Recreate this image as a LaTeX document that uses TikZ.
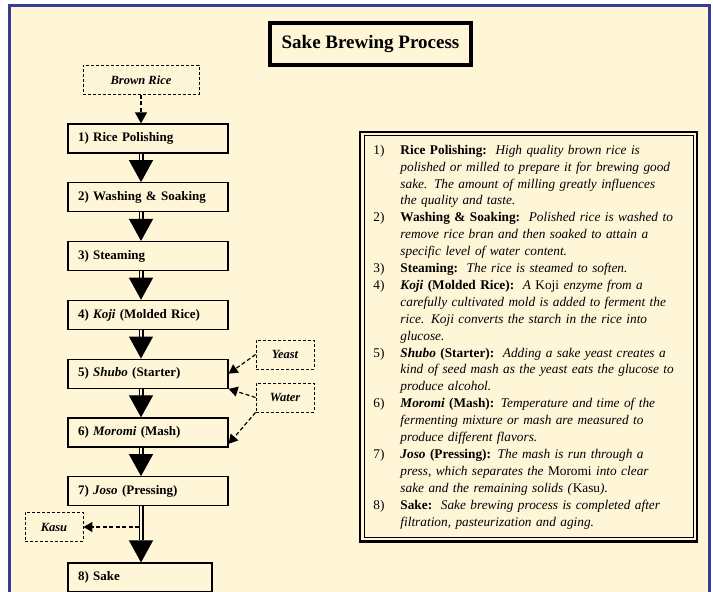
\documentclass[tikz,border=0pt]{standalone}
\usepackage{fontspec}
\setmainfont{Liberation Serif}
\usetikzlibrary{arrows.meta,positioning,calc}
\definecolor{paper}{RGB}{255,246,216}
\definecolor{frameblue}{RGB}{56,60,148}

\begin{document}
\begin{tikzpicture}[
  x=1pt, y=1pt,
  stepbox/.style={draw=black, line width=1.3pt, fill=paper, minimum height=29pt,
            text width=140pt, inner xsep=10pt, align=left,
            font=\fontsize{13}{15}\selectfont\bfseries},
  input/.style={draw=black, line width=0.9pt, dash pattern=on 3pt off 2pt,
            minimum height=29pt, inner sep=2pt, align=center,
            font=\fontsize{12.5}{15}\selectfont\bfseries\itshape},
  shaft/.style={draw=black, line width=1.2pt, double=paper, double distance=2.6pt},
  head/.style={draw=black, line width=1pt, -{Triangle[length=22pt,width=24pt]}},
  feed/.style={draw=black, line width=1.2pt, dash pattern=on 4pt off 2.5pt,
            -{Triangle[length=9pt,width=10pt]}}
]
\useasboundingbox (0,0) rectangle (713,592);

% page and frame
\fill[white] (0,0) rectangle (713,592);
\fill[paper] (9.5,0) rectangle (709.5,586);
\draw[frameblue, line width=3pt] (9.5,0) -- (9.5,586) -- (709.5,586) -- (709.5,0);

% title
\node[draw, line width=3.5pt, minimum width=201pt, minimum height=42pt,
      font=\fontsize{19}{22}\selectfont\bfseries] (title) at (370.5,548) {Sake Brewing Process};

% ---- process steps
\node[input, minimum width=116pt] (brown) at (141,512) {Brown Rice};
\node[stepbox] (s1) at (148,453.5) {1) Rice Polishing};
\node[stepbox, below=28.5pt of s1] (s2) {2) Washing \& Soaking};
\node[stepbox, below=28.5pt of s2] (s3) {3) Steaming};
\node[stepbox, below=28.5pt of s3] (s4) {4) \textit{Koji} (Molded Rice)};
\node[stepbox, below=28.5pt of s4] (s5) {5) \textit{Shubo} (Starter)};
\node[stepbox, below=28.5pt of s5] (s6) {6) \textit{Moromi} (Mash)};
\node[stepbox, below=28.5pt of s6] (s7) {7) \textit{Joso} (Pressing)};
\node[stepbox, text width=124pt, anchor=north west] (s8) at ([yshift=-56pt]s7.south west) {8) Sake};

% ---- inputs and by-product
\node[input, minimum width=58pt] (yeast) at (285,237.5) {Yeast};
\node[input, minimum width=58pt] (water) at (285,194.5) {Water};
\node[input, minimum width=58pt] (kasu) at (54,65) {Kasu};

% ---- main flow
\draw[feed, -{Triangle[length=11pt,width=12pt]}] (brown.south) -- (s1.north -| brown.south);
\draw[shaft] (s1.south -| brown.south) -- ++(0,-7pt) coordinate (h1);
\draw[head] (h1) -- (s2.north -| brown.south);
\draw[shaft] (s2.south -| brown.south) -- ++(0,-7pt) coordinate (h2);
\draw[head] (h2) -- (s3.north -| brown.south);
\draw[shaft] (s3.south -| brown.south) -- ++(0,-7pt) coordinate (h3);
\draw[head] (h3) -- (s4.north -| brown.south);
\draw[shaft] (s4.south -| brown.south) -- ++(0,-7pt) coordinate (h4);
\draw[head] (h4) -- (s5.north -| brown.south);
\draw[shaft] (s5.south -| brown.south) -- ++(0,-7pt) coordinate (h5);
\draw[head] (h5) -- (s6.north -| brown.south);
\draw[shaft] (s6.south -| brown.south) -- ++(0,-7pt) coordinate (h6);
\draw[head] (h6) -- (s7.north -| brown.south);
\draw[shaft] (s7.south -| brown.south) -- ++(0,-34pt) coordinate (h7);
\draw[head] (h7) -- (s8.north -| brown.south);

% ---- side feeds
\draw[feed] (yeast.west) -- (s5.east);
\draw[feed] (water.west) -- (s5.south east);
\draw[feed] (water.south west) -- (s6.-8);
\coordinate (split) at ([xshift=-2pt]brown.south |- kasu.east);
\draw[feed] (split) -- (kasu.east);

% ---- notes
\node[draw, line width=0.9pt, anchor=north west, inner xsep=9.5pt, inner ysep=6.5pt,
      text width=310pt, align=left, font=\fontsize{13.3}{16.9}\selectfont] (notes) at (363.5,456.5)
{\noindent\begin{tabular}{@{}p{27pt}@{}l@{}}
1) & \textbf{Rice Polishing:}\hspace{2pt} \textit{High quality brown rice is}\\
   & \textit{polished or milled to prepare it for brewing good}\\
   & \textit{sake. The amount of milling greatly influences}\\
   & \textit{the quality and taste.}\\
2) & \textbf{Washing \& Soaking:}\hspace{2pt} \textit{Polished rice is washed to}\\
   & \textit{remove rice bran and then soaked to attain a}\\
   & \textit{specific level of water content.}\\
3) & \textbf{Steaming:}\hspace{2pt} \textit{The rice is steamed to soften.}\\
4) & \textbf{\textit{Koji} (Molded Rice):}\hspace{2pt} \textit{A} Koji \textit{enzyme from a}\\
   & \textit{carefully cultivated mold is added to ferment the}\\
   & \textit{rice. Koji converts the starch in the rice into}\\
   & \textit{glucose.}\\
5) & \textbf{\textit{Shubo} (Starter):}\hspace{2pt} \textit{Adding a sake yeast creates a}\\
   & \textit{kind of seed mash as the yeast eats the glucose to}\\
   & \textit{produce alcohol.}\\
6) & \textbf{\textit{Moromi} (Mash):} \textit{Temperature and time of the}\\
   & \textit{fermenting mixture or mash are measured to}\\
   & \textit{produce different flavors.}\\
7) & \textbf{\textit{Joso} (Pressing):} \textit{The mash is run through a}\\
   & \textit{press, which separates the} Moromi \textit{into clear}\\
   & \textit{sake and the remaining solids (}Kasu\textit{).}\\
8) & \textbf{Sake:}\hspace{2pt} \textit{Sake brewing process is completed after}\\
   & \textit{filtration, pasteurization and aging.}
\end{tabular}};
\draw[line width=2.8pt] ($(notes.north west)+(-3.5pt,3.5pt)$) rectangle ($(notes.south east)+(3.5pt,-3.5pt)$);
\end{tikzpicture}
\end{document}
